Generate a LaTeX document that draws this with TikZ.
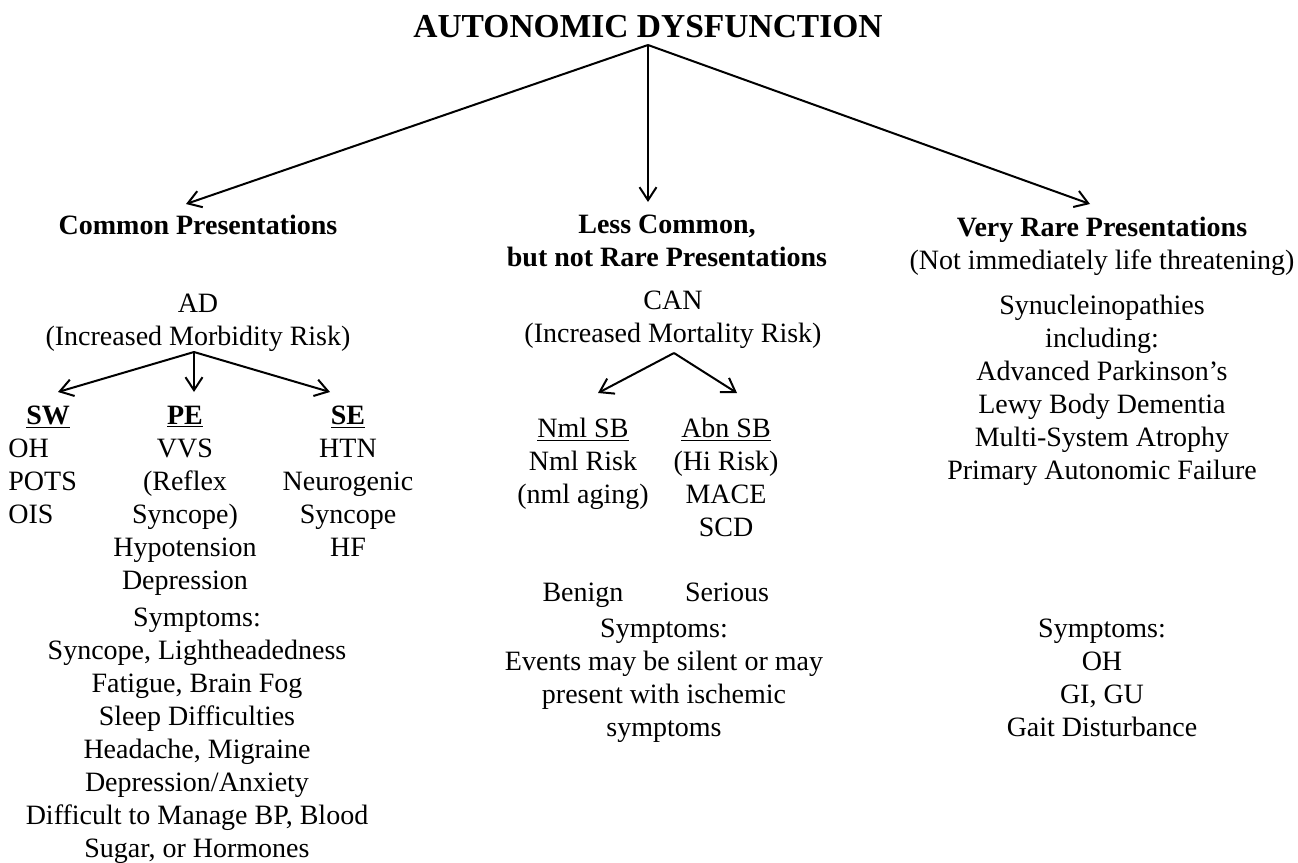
\documentclass[tikz,border=0pt]{standalone}
\usepackage{fontspec}
\setmainfont{Liberation Serif}
\usepackage{tikz}
\usetikzlibrary{arrows.meta}

\tikzset{
  txt/.style={font=\fontsize{14}{16.5}\selectfont, align=center, inner sep=0pt, anchor=base},
  hd/.style={txt, font=\fontsize{14}{16.5}\selectfont\bfseries},
  fleche/.style={-{Straight Barb[length=6.5pt,width=8.5pt]}, line width=1pt},
}

\begin{document}
\begin{tikzpicture}[x=0.5pt, y=-0.5pt]
\useasboundingbox (0,0) rectangle (1298,863);

% Titre
\node[hd, font=\fontsize{16.75}{19}\selectfont\bfseries] (titre) at (648,37) {AUTONOMIC DYSFUNCTION};
\coordinate (sommet) at (648,45);
\coordinate (pointeG) at (186,204);
\coordinate (pointeM) at (648,202);
\coordinate (pointeD) at (1090,204);

% Colonne gauche (base = ligne du bas)
\node[hd] (commun) at (198,234) {Common Presentations};
\node[txt] (ad) at (198,345) {AD\\(Increased Morbidity Risk)};
\coordinate (adfourche) at (194,352);
\coordinate (pointeSW) at (58,392);
\coordinate (pointePE) at (194,392);
\coordinate (pointeSE) at (330,392);
\node[txt, align=left, anchor=base west] (sw) at (8,523) {\hspace*{9pt}\textbf{\underline{SW}}\\OH\\POTS\\OIS};
\node[txt] (pe) at (185,589) {\textbf{\underline{PE}}\\VVS\\(Reflex\\Syncope)\\Hypotension\\Depression};
\node[txt] (se) at (348,556) {\textbf{\underline{SE}}\\HTN\\Neurogenic\\Syncope\\HF};
\node[txt] (sympA) at (197,857) {Symptoms:\\Syncope, Lightheadedness\\Fatigue, Brain Fog\\Sleep Difficulties\\Headache, Migraine\\Depression/Anxiety\\Difficult to Manage BP, Blood\\Sugar, or Hormones};

% Colonne du milieu
\node[hd] (moins) at (667,266) {Less Common,\\but not Rare Presentations};
\node[txt] (can) at (673,342) {CAN\\(Increased Mortality Risk)};
\coordinate (canfourche) at (674,353);
\coordinate (pointeNml) at (598,393);
\coordinate (pointeAbn) at (737,393);
\node[txt] (nml) at (583,503) {\underline{Nml SB}\\Nml Risk\\(nml aging)};
\node[txt] (abn) at (726,536) {\underline{Abn SB}\\(Hi Risk)\\MACE\\SCD};
\node[txt] (benin) at (583,601) {Benign};
\node[txt] (grave) at (727,601) {Serious};
\node[txt] (sympB) at (664,736) {Symptoms:\\Events may be silent or may\\present with ischemic\\symptoms};

% Colonne droite
\node[txt] (rare) at (1102,269) {\textbf{Very Rare Presentations}\\(Not immediately life threatening)};
\node[txt] (syn) at (1102,479) {Synucleinopathies\\including:\\Advanced Parkinson’s\\Lewy Body Dementia\\Multi-System Atrophy\\Primary Autonomic Failure};
\node[txt] (sympC) at (1102,736) {Symptoms:\\OH\\GI, GU\\Gait Disturbance};

% Flèches principales
\draw[fleche] (sommet) -- (pointeG);
\draw[fleche] (sommet) -- (pointeM);
\draw[fleche] (sommet) -- (pointeD);

% Flèches secondaires
\draw[fleche] (adfourche) -- (pointeSW);
\draw[fleche] (adfourche) -- (pointePE);
\draw[fleche] (adfourche) -- (pointeSE);
\draw[fleche] (canfourche) -- (pointeNml);
\draw[fleche] (canfourche) -- (pointeAbn);

\end{tikzpicture}
\end{document}
